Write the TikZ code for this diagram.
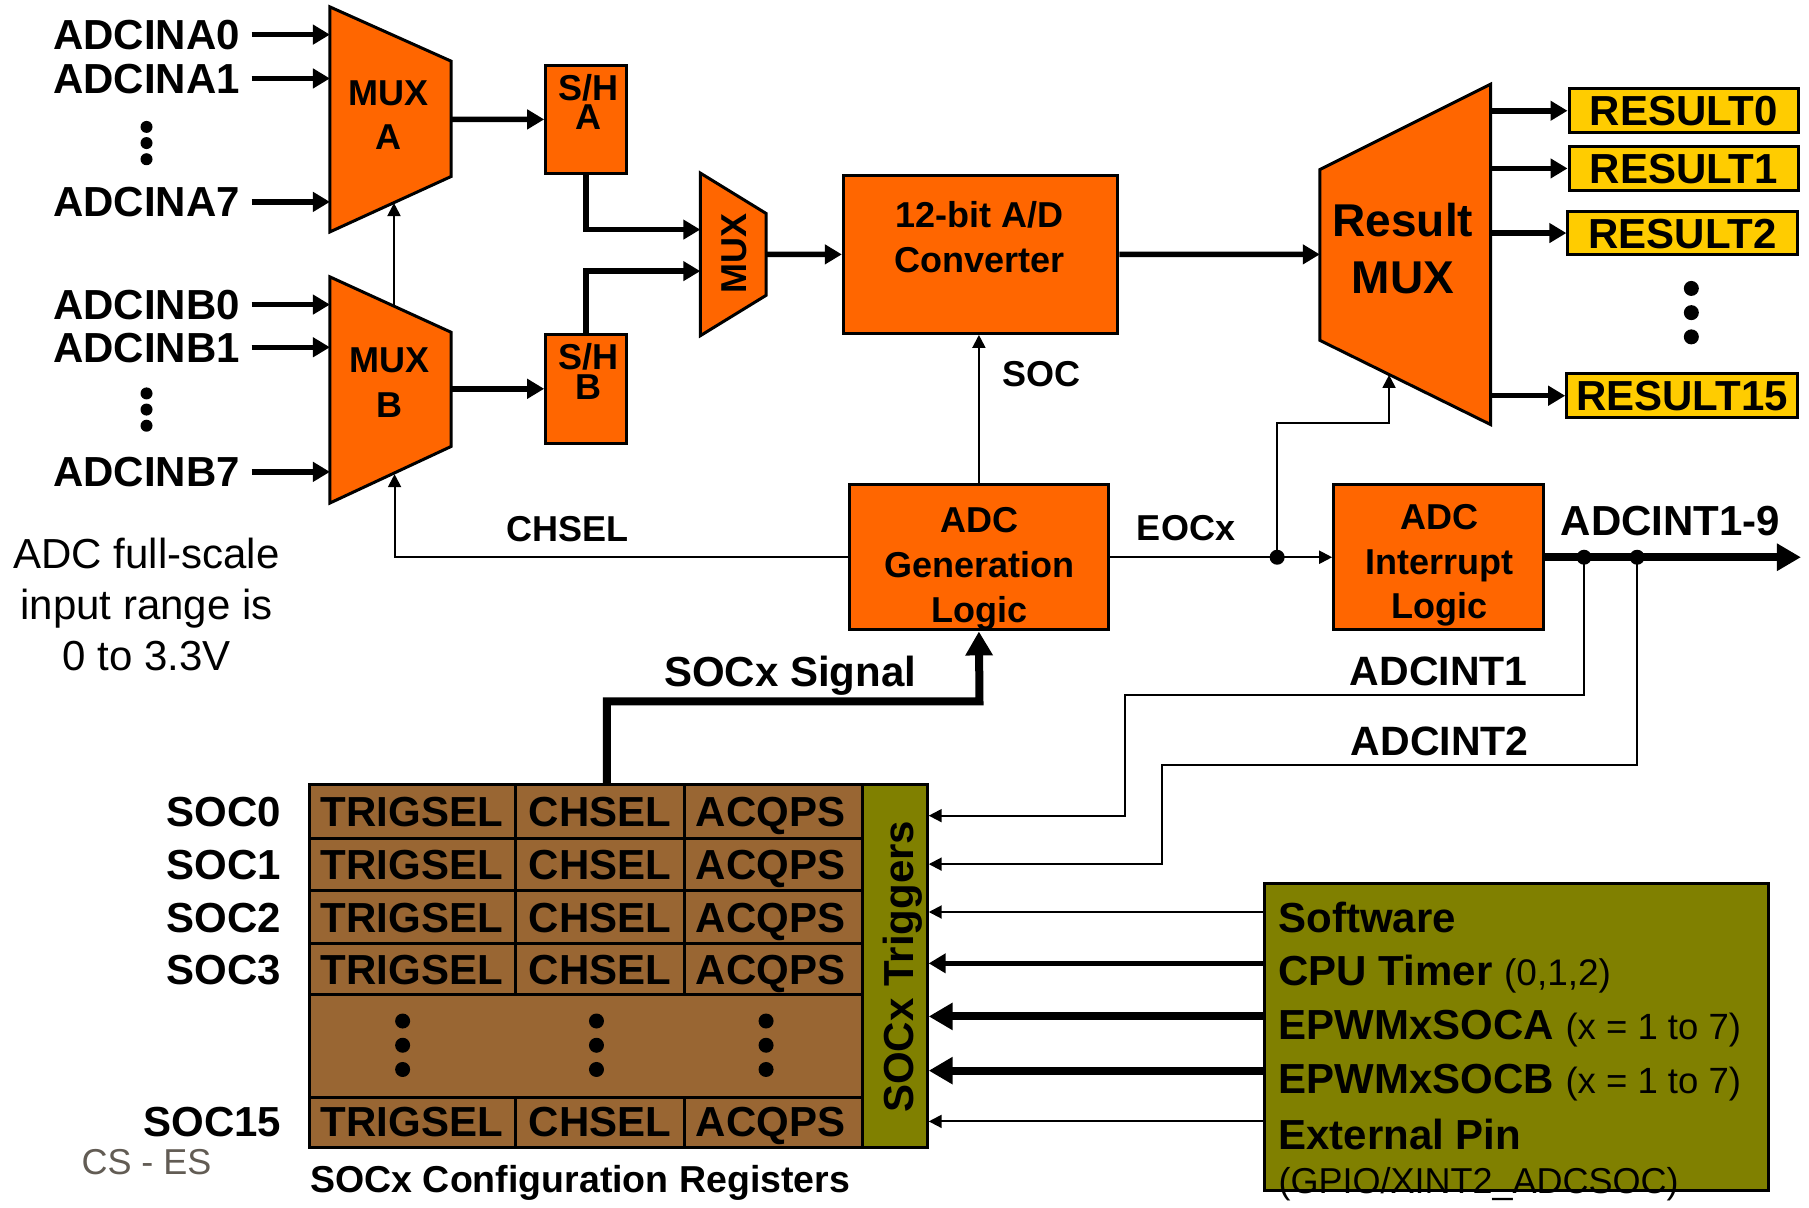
\documentclass[tikz,border=0pt]{standalone}
\usepackage{fontspec}
\setmainfont{Liberation Sans}
\usetikzlibrary{arrows.meta,fit}
\definecolor{orng}{RGB}{255,102,0}
\definecolor{yel}{RGB}{255,204,0}
\definecolor{brn}{RGB}{153,102,51}
\definecolor{olv}{RGB}{128,128,0}
\definecolor{csgray}{RGB}{98,92,84}
\begin{document}
\begin{tikzpicture}[x=1.1537pt,y=-1.1537pt,
  B42/.style={font=\fontsize{42}{46}\selectfont\bfseries, inner sep=0pt, text height=30pt, text depth=0pt},
  B41/.style={font=\fontsize{41}{46}\selectfont\bfseries, inner sep=0pt, text height=29pt, text depth=0pt},
  B37/.style={font=\fontsize{37.5}{40}\selectfont\bfseries, inner sep=0pt, text height=27pt, text depth=0pt},
  B36/.style={font=\fontsize{36}{40}\selectfont\bfseries, inner sep=0pt, text height=26pt, text depth=0pt},
  B46/.style={font=\fontsize{46}{50}\selectfont\bfseries, inner sep=0pt, text height=33pt, text depth=0pt},
  R42/.style={font=\fontsize{42}{46}\selectfont, inner sep=0pt, text height=30pt, text depth=0pt},
  R36/.style={font=\fontsize{36}{40}\selectfont, inner sep=0pt, text height=26pt, text depth=0pt},
  blk/.style={draw=black, line width=3pt},
  obox/.style={blk, fill=orng, inner sep=0pt},
  ybox/.style={blk, fill=yel, inner sep=0pt},
  gbox/.style={blk, fill=olv, inner sep=0pt},
  thinarrow/.style={line width=2pt, -{Triangle[length=13pt,width=13pt]}},
  medarrow/.style={line width=5.5pt, -{Triangle[length=17pt,width=19pt]}},
  midarrow/.style={line width=5pt, -{Triangle[length=17pt,width=19pt]}},
  thkarrow/.style={line width=8pt, -{Triangle[length=24pt,width=26pt]}},
  jdot/.style={circle, fill=black, inner sep=0pt, minimum size=15pt},
  edot/.style={circle, fill=black, inner sep=0pt, minimum size=12pt},
  bdot/.style={circle, fill=black, inner sep=0pt, minimum size=15pt},
]
\fill[white] (0,0) rectangle (1568,1047);
\useasboundingbox (0,0) rectangle (1568,1047);

% ---------- input labels and arrows
\foreach \n/\y in {ADCINA0/30, ADCINA1/68, ADCINA7/175, ADCINB0/264, ADCINB1/301, ADCINB7/409}{
  \node[B42, anchor=east] (\n) at (208,\y) {\n};
  \coordinate (\n-s) at (218,\y);
  \coordinate (\n-e) at (286,\y);
  \draw[medarrow] (\n-s) -- (\n-e);
}
\foreach \y [count=\i] in {110,124,138,341,355,369}{
  \node[edot] (ldot\i) at (127,\y) {};
}

% ---------- MUX A / MUX B
\draw[blk, fill=orng] (286,6) -- (391,53) -- (391,153) -- (286,201) -- cycle;
\node[B36] (muxAa) at (337,80) {MUX};
\node[B36] (muxAb) at (337,118) {A};
\draw[blk, fill=orng] (286,240) -- (391,288) -- (391,387) -- (286,436) -- cycle;
\node[B36] (muxBa) at (338,312) {MUX};
\node[B36] (muxBb) at (338,351) {B};
\coordinate (muxBtop) at (341.5,265);
\coordinate (muxAbot) at (341.5,176);
\draw[thinarrow] (muxBtop) -- (muxAbot);
\coordinate (muxAout) at (391,103.5);
\coordinate (muxBout) at (391,337);
\coordinate (muxBbot) at (342,411);

% ---------- S/H boxes
\node[obox, fit={(473,57) (543,150)}] (shA) {};
\node[B36] (shAt) at (510,76) {S/H};
\node[B36] (shAb) at (510,101) {A};
\node[obox, fit={(473,290) (543,384)}] (shB) {};
\node[B36] (shBt) at (510,309) {S/H};
\node[B36] (shBb) at (510,335) {B};
\draw[medarrow] (muxAout) -- (shA.west);
\draw[medarrow] (muxBout) -- (shB.west);

% ---------- small MUX
\draw[blk, fill=orng] (607,150) -- (664,185) -- (664,256) -- (607,291) -- cycle;
\node[B36, rotate=90] (smux) at (636,220) {MUX};
\coordinate (smuxA) at (607,199);
\coordinate (smuxB) at (607,235);
\coordinate (smuxOut) at (664,220.5);
\draw[medarrow] (shA.south) |- (smuxA);
\draw[medarrow] (shB.north) |- (smuxB);

% ---------- converter
\node[obox, fit={(731,152) (969,289)}] (conv) {};
\node[B36] (convA) at (849,186) {12-bit A/D};
\node[B36] (convB) at (849,225) {Converter};
\draw[medarrow] (smuxOut) -- (conv.west);

% ---------- result MUX
\draw[blk, fill=orng] (1144,147) -- (1292,73) -- (1292,368) -- (1144,295) -- cycle;
\node[B46] (rmA) at (1216,191) {Result};
\node[B46] (rmB) at (1216,240) {MUX};
\coordinate (rmIn) at (1144,220.5);
\draw[medarrow] (conv.east) -- (rmIn);

\node[ybox, fit={(1360,77) (1559,115)}] (r0) {};
\node[B42] at (r0.center) {RESULT0};
\node[ybox, fit={(1360,127) (1559,165)}] (r1) {};
\node[B42] at (r1.center) {RESULT1};
\node[ybox, fit={(1359,183) (1558,221)}] (r2) {};
\node[B42] at (r2.center) {RESULT2};
\node[ybox, fit={(1358,324) (1558,362)}] (r15) {};
\node[B42] at (r15.center) {RESULT15};
\foreach \r in {r0,r1,r2,r15}{
  \draw[medarrow] (1292,0 |- \r.west) -- (\r.west);
}
\node[bdot] (rd1) at (1466,250) {};
\node[bdot] (rd2) at (1466,271) {};
\node[bdot] (rd3) at (1466,292) {};

% ---------- ADC generation logic
\node[obox, fit={(736,420) (961,546)}] (gen) {};
\node[B36] (genA) at (849,450) {ADC};
\node[B36] (genB) at (849,489) {Generation};
\node[B36] (genC) at (849,528) {Logic};
\draw[thinarrow] (gen.north) -- (gen.north |- conv.south);
\node[B36] (soc) at (903,324) {SOC};
\draw[thinarrow] (gen.west) -| (muxBbot);
\node[B36] (chsel) at (492,458) {CHSEL};

% ---------- interrupt logic
\node[obox, fit={(1156,420) (1338,546)}] (intr) {};
\node[B36] (intA) at (1248,448) {ADC};
\node[B36] (intB) at (1248,487) {Interrupt};
\node[B36] (intC) at (1248,525) {Logic};
\draw[thinarrow] (gen.east) -- (intr.west);
\node[jdot] (eocdot) at (1107,483) {};
\node[B36] (eoc) at (1028,457) {EOCx};
\coordinate (rmBot) at (1204,325);
\draw[thinarrow] (eocdot.center) |- (1150,367) -| (rmBot);

\coordinate (intOut) at (1561,483);
\draw[thkarrow] (intr.east) -- (intOut);
\node[B42] (adcint) at (1448,451) {ADCINT1-9};
\node[jdot] (d1) at (1373,483) {};
\node[jdot] (d2) at (1419,483) {};

% ---------- SOCx configuration table
\fill[brn] (268,680) rectangle (748,995);
\node[gbox, fit={(748,680) (804,995)}] (trig) {};
\draw[blk] (268,680) rectangle (748,995);
\foreach \y in {727,772,818,862,951}{ \draw[blk] (268,\y) -- (748,\y); }
\foreach \x in {447,593}{ \draw[blk] (\x,680) -- (\x,862); \draw[blk] (\x,951) -- (\x,995); }
\foreach \y/\s in {703.5/0, 749.5/1, 795/2, 840/3, 972/15}{
  \node[B42] (tg\s) at (357,\y) {TRIGSEL};
  \node[B42] (ch\s) at (520,\y) {CHSEL};
  \node[B42] (aq\s) at (668,\y) {ACQPS};
  \node[B42, anchor=east] (soc\s) at (244,\y) {SOC\s};
}
\foreach \x in {349,517,664}{
  \foreach \y in {885,906,927}{ \node[bdot] at (\x,\y) {}; }
}
\node[B42, rotate=90] (trigt) at (779,838) {SOCx Triggers};
\node[B37] (cfg) at (503,1022) {SOCx Configuration Registers};

% SOCx signal
\coordinate (tabTop) at (526,680);
\draw[thkarrow] (tabTop) |- (849,608) -- (gen.south);
\node[B42] (socsig) at (685,582) {SOCx Signal};

% ADCINT1 / ADCINT2 feedback
\coordinate (t0) at (805,707);
\coordinate (t1) at (805,749);
\draw[thinarrow] (d1.center) |- (975,602) |- (t0);
\node[B41] (ai1) at (1247,582) {ADCINT1};
\draw[thinarrow] (d2.center) |- (1007,663) |- (t1);
\node[B41] (ai2) at (1248,642) {ADCINT2};

% ---------- trigger sources
\node[gbox, fit={(1096,766) (1533,1032)}] (src) {};
\node[B42, anchor=west] (s1) at (1108,795) {Software};
\node[B42, anchor=west] (s2) at (1108,841.5) {CPU Timer {\fontsize{37}{40}\selectfont\mdseries (0,1,2)}};
\node[B42, anchor=west] (s3) at (1108,888) {EPWMxSOCA {\fontsize{36.5}{40}\selectfont\mdseries (x = 1 to 7)}};
\node[B42, anchor=west] (s4) at (1108,935) {EPWMxSOCB {\fontsize{36.5}{40}\selectfont\mdseries (x = 1 to 7)}};
\node[B42, anchor=west] (s5) at (1108,983) {External Pin};
\node[R36, anchor=west] (s6) at (1108,1023) {(GPIO/XINT2\_ADCSOC)};
\draw[thinarrow] (src.west |- 0,790.5) -- (805,790.5);
\draw[midarrow] (src.west |- 0,835) -- (805,835);
\draw[thkarrow] (src.west |- 0,881) -- (805,881);
\draw[thkarrow] (src.west |- 0,928) -- (805,928);
\draw[thinarrow] (src.west |- 0,972) -- (805,972);

% ---------- notes
\node[R42] (n1) at (127,480) {ADC full-scale};
\node[R42] (n2) at (127,524) {input range is};
\node[R42] (n3) at (127,568) {0 to 3.3V};
\node[R36, text=csgray] (cs) at (127,1007) {CS - ES};
\end{tikzpicture}
\end{document}
